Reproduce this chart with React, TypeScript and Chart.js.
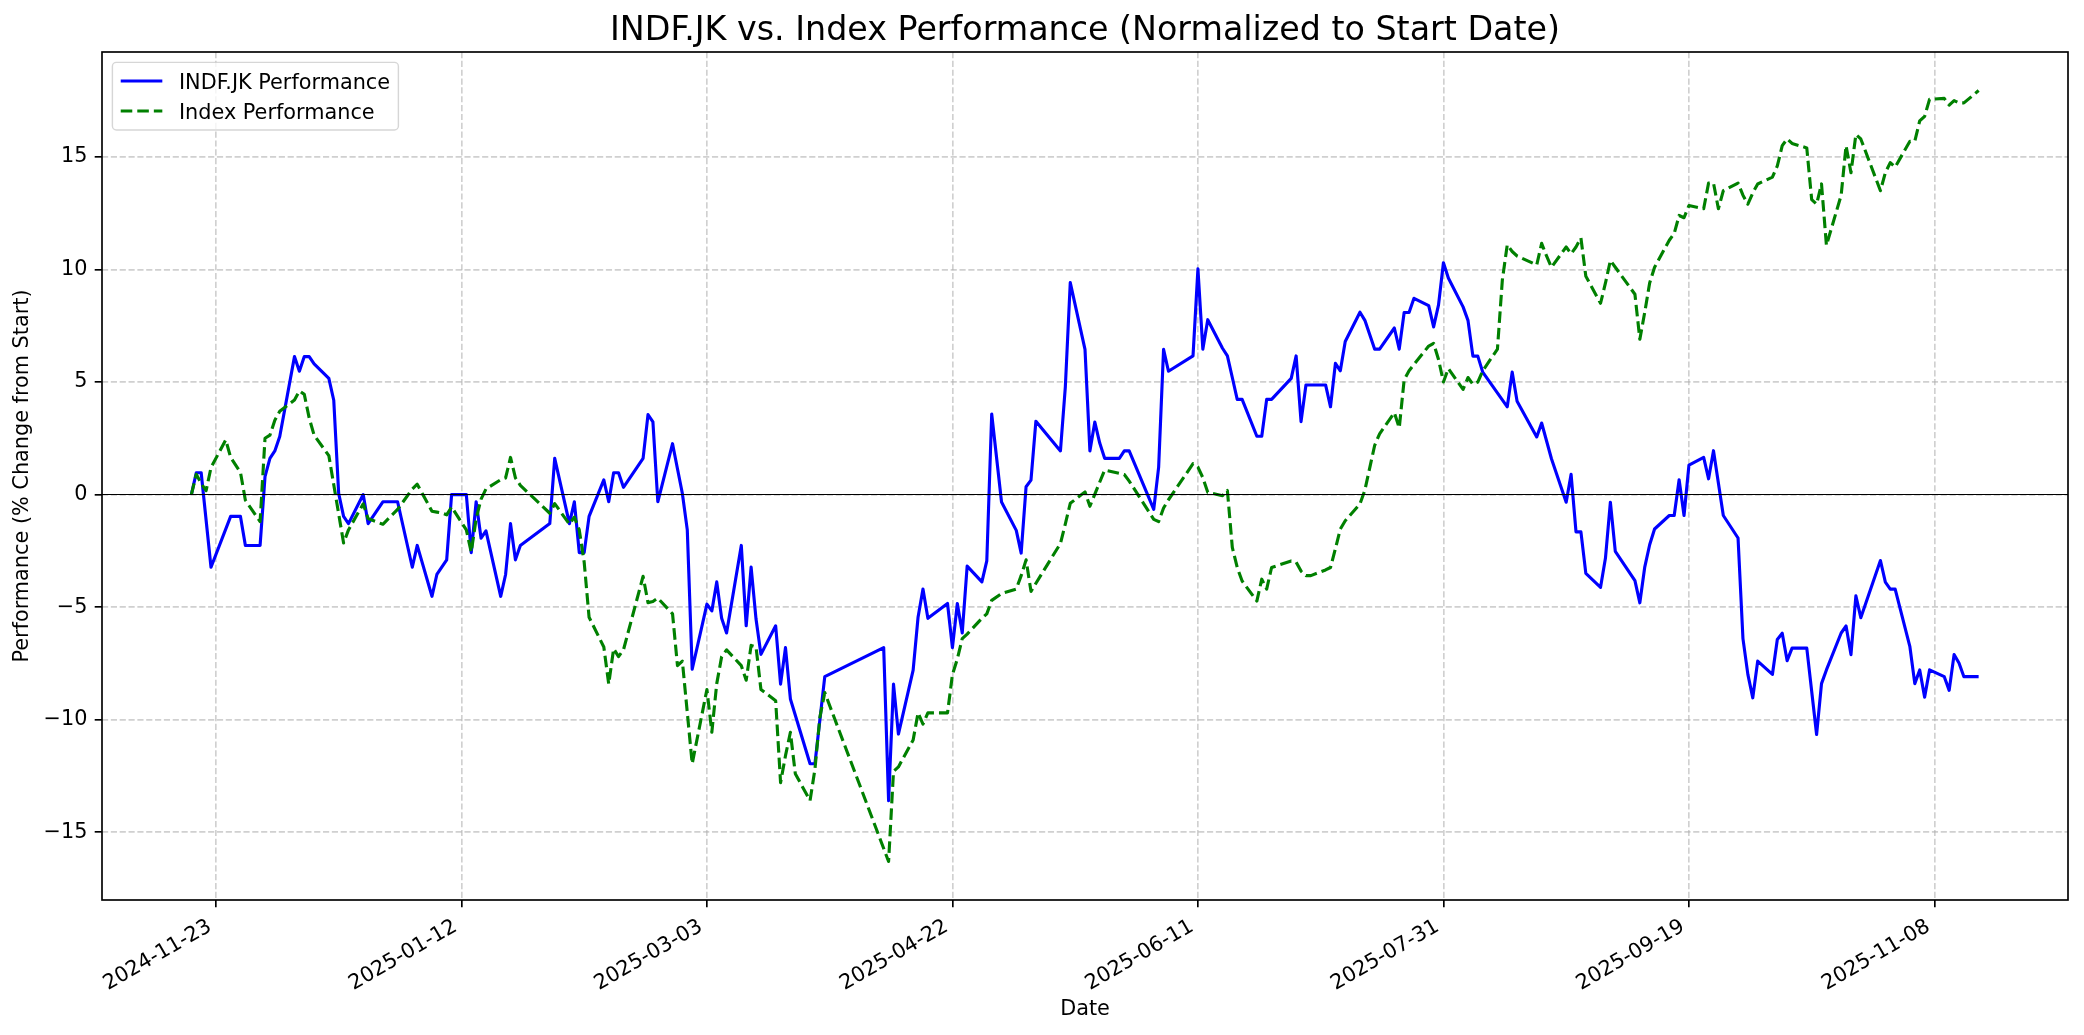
import React, { useEffect, useRef } from 'react';
import { Chart, registerables } from 'chart.js';

Chart.register(...registerables);

// ---------------- data ----------------
const TITLE = 'INDF.JK vs. Index Performance (Normalized to Start Date)';
const X_LABEL = 'Date';
const Y_LABEL = 'Performance (% Change from Start)';
const SERIES_LABELS = ['INDF.JK Performance', 'Index Performance'];

// INDF.JK performance (% change from start), [date, value]
const stockSeries: [string, number][] = [
  ['2024-11-18', 0], ['2024-11-19', 0.97], ['2024-11-20', 0.97], ['2024-11-22', -3.23], ['2024-11-26', -0.97], ['2024-11-28', -0.97], ['2024-11-29', -2.26],
  ['2024-12-02', -2.26], ['2024-12-03', 0.8], ['2024-12-04', 1.61], ['2024-12-05', 1.94], ['2024-12-06', 2.58], ['2024-12-09', 6.13], ['2024-12-10', 5.48], ['2024-12-11', 6.13], ['2024-12-12', 6.13], ['2024-12-13', 5.81], ['2024-12-16', 5.16], ['2024-12-17', 4.19], ['2024-12-18', 0.05], ['2024-12-19', -0.97], ['2024-12-20', -1.29], ['2024-12-23', 0], ['2024-12-24', -1.29], ['2024-12-27', -0.32], ['2024-12-30', -0.32],
  ['2025-01-02', -3.23], ['2025-01-03', -2.26], ['2025-01-06', -4.52], ['2025-01-07', -3.55], ['2025-01-09', -2.9], ['2025-01-10', 0], ['2025-01-13', 0], ['2025-01-14', -2.58], ['2025-01-15', -0.32], ['2025-01-16', -1.94], ['2025-01-17', -1.61], ['2025-01-20', -4.52], ['2025-01-21', -3.55], ['2025-01-22', -1.29], ['2025-01-23', -2.9], ['2025-01-24', -2.26], ['2025-01-30', -1.29], ['2025-01-31', 1.61],
  ['2025-02-03', -1.29], ['2025-02-04', -0.32], ['2025-02-05', -2.58], ['2025-02-06', -2.58], ['2025-02-07', -0.97], ['2025-02-10', 0.65], ['2025-02-11', -0.32], ['2025-02-12', 0.97], ['2025-02-13', 0.97], ['2025-02-14', 0.32], ['2025-02-18', 1.61], ['2025-02-19', 3.55], ['2025-02-20', 3.23], ['2025-02-21', -0.32], ['2025-02-24', 2.26], ['2025-02-25', 1.15], ['2025-02-26', 0.05], ['2025-02-27', -1.57], ['2025-02-28', -7.76],
  ['2025-03-03', -4.87], ['2025-03-04', -5.17], ['2025-03-05', -3.88], ['2025-03-06', -5.5], ['2025-03-07', -6.15], ['2025-03-10', -2.26], ['2025-03-11', -5.83], ['2025-03-12', -3.22], ['2025-03-13', -5.53], ['2025-03-14', -7.1], ['2025-03-17', -5.83], ['2025-03-18', -8.42], ['2025-03-19', -6.8], ['2025-03-20', -9.08], ['2025-03-24', -11.96], ['2025-03-25', -11.96], ['2025-03-27', -8.09],
  ['2025-04-08', -6.8], ['2025-04-09', -13.6], ['2025-04-10', -8.42], ['2025-04-11', -10.64], ['2025-04-14', -7.8], ['2025-04-15', -5.45], ['2025-04-16', -4.2], ['2025-04-17', -5.5], ['2025-04-21', -4.84], ['2025-04-22', -6.8], ['2025-04-23', -4.84], ['2025-04-24', -6.15], ['2025-04-25', -3.18], ['2025-04-28', -3.88], ['2025-04-29', -2.95], ['2025-04-30', 3.58],
  ['2025-05-02', -0.33], ['2025-05-05', -1.59], ['2025-05-06', -2.6], ['2025-05-07', 0.35], ['2025-05-08', 0.64], ['2025-05-09', 3.26], ['2025-05-14', 1.94], ['2025-05-15', 4.8], ['2025-05-16', 9.42], ['2025-05-19', 6.45], ['2025-05-20', 1.94], ['2025-05-21', 3.22], ['2025-05-22', 2.29], ['2025-05-23', 1.61], ['2025-05-26', 1.61], ['2025-05-27', 1.94], ['2025-05-28', 1.94],
  ['2025-06-02', -0.66], ['2025-06-03', 1.22], ['2025-06-04', 6.45], ['2025-06-05', 5.48], ['2025-06-10', 6.16], ['2025-06-11', 10.03], ['2025-06-12', 6.46], ['2025-06-13', 7.77], ['2025-06-16', 6.5], ['2025-06-17', 6.16], ['2025-06-18', 5.2], ['2025-06-19', 4.23], ['2025-06-20', 4.23], ['2025-06-23', 2.59], ['2025-06-24', 2.59], ['2025-06-25', 4.23], ['2025-06-26', 4.23], ['2025-06-30', 5.16],
  ['2025-07-01', 6.16], ['2025-07-02', 3.24], ['2025-07-03', 4.87], ['2025-07-04', 4.87], ['2025-07-07', 4.87], ['2025-07-08', 3.9], ['2025-07-09', 5.83], ['2025-07-10', 5.5], ['2025-07-11', 6.8], ['2025-07-14', 8.1], ['2025-07-15', 7.74], ['2025-07-16', 7.1], ['2025-07-17', 6.46], ['2025-07-18', 6.46], ['2025-07-21', 7.4], ['2025-07-22', 6.46], ['2025-07-23', 8.09], ['2025-07-24', 8.09], ['2025-07-25', 8.72], ['2025-07-28', 8.39], ['2025-07-29', 7.45], ['2025-07-30', 8.43], ['2025-07-31', 10.3],
  ['2025-08-01', 9.62], ['2025-08-04', 8.34], ['2025-08-05', 7.74], ['2025-08-06', 6.15], ['2025-08-07', 6.15], ['2025-08-08', 5.44], ['2025-08-13', 3.9], ['2025-08-14', 5.44], ['2025-08-15', 4.15], ['2025-08-19', 2.56], ['2025-08-20', 3.18], ['2025-08-22', 1.59], ['2025-08-25', -0.34], ['2025-08-26', 0.9], ['2025-08-27', -1.66], ['2025-08-28', -1.66], ['2025-08-29', -3.5],
  ['2025-09-01', -4.12], ['2025-09-02', -2.82], ['2025-09-03', -0.34], ['2025-09-04', -2.52], ['2025-09-08', -3.82], ['2025-09-09', -4.81], ['2025-09-10', -3.22], ['2025-09-11', -2.23], ['2025-09-12', -1.53], ['2025-09-15', -0.93], ['2025-09-16', -0.93], ['2025-09-17', 0.66], ['2025-09-18', -0.93], ['2025-09-19', 1.31], ['2025-09-22', 1.65], ['2025-09-23', 0.7], ['2025-09-24', 1.95], ['2025-09-26', -0.93], ['2025-09-29', -1.93], ['2025-09-30', -6.4],
  ['2025-10-01', -7.99], ['2025-10-02', -9.03], ['2025-10-03', -7.4], ['2025-10-06', -7.99], ['2025-10-07', -6.44], ['2025-10-08', -6.16], ['2025-10-09', -7.38], ['2025-10-10', -6.82], ['2025-10-13', -6.82], ['2025-10-15', -10.66], ['2025-10-16', -8.4], ['2025-10-17', -7.79], ['2025-10-20', -6.15], ['2025-10-21', -5.84], ['2025-10-22', -7.11], ['2025-10-23', -4.5], ['2025-10-24', -5.47], ['2025-10-28', -2.93], ['2025-10-29', -3.89], ['2025-10-30', -4.2], ['2025-10-31', -4.2],
  ['2025-11-03', -6.76], ['2025-11-04', -8.4], ['2025-11-05', -7.79], ['2025-11-06', -9.0], ['2025-11-07', -7.79], ['2025-11-10', -8.09], ['2025-11-11', -8.7], ['2025-11-12', -7.11], ['2025-11-13', -7.48], ['2025-11-14', -8.09], ['2025-11-17', -8.09],
];

// Index performance (% change from start), [date, value]
const indexSeries: [string, number][] = [
  ['2024-11-18', 0], ['2024-11-19', 0.9], ['2024-11-20', 0.5], ['2024-11-21', 0.17], ['2024-11-22', 1.2], ['2024-11-25', 2.43], ['2024-11-26', 1.65], ['2024-11-28', 0.99], ['2024-11-29', -0.25],
  ['2024-12-02', -1.2], ['2024-12-03', 2.5], ['2024-12-04', 2.64], ['2024-12-05', 3.3], ['2024-12-06', 3.7], ['2024-12-09', 4.2], ['2024-12-10', 4.6], ['2024-12-11', 4.45], ['2024-12-12', 3.4], ['2024-12-13', 2.64], ['2024-12-16', 1.73], ['2024-12-19', -2.15], ['2024-12-20', -1.57], ['2024-12-23', -0.41], ['2024-12-24', -1.07], ['2024-12-27', -1.32], ['2024-12-30', -0.66],
  ['2025-01-02', 0.25], ['2025-01-03', 0.46], ['2025-01-06', -0.74], ['2025-01-07', -0.78], ['2025-01-08', -0.82], ['2025-01-09', -0.9], ['2025-01-10', -0.55], ['2025-01-13', -1.57], ['2025-01-14', -2.56], ['2025-01-15', -1.07], ['2025-01-16', -0.2], ['2025-01-17', 0.25], ['2025-01-20', 0.66], ['2025-01-21', 0.74], ['2025-01-22', 1.65], ['2025-01-23', 0.74], ['2025-01-24', 0.41], ['2025-01-30', -0.83], ['2025-01-31', -0.4],
  ['2025-02-03', -1.32], ['2025-02-04', -1.0], ['2025-02-05', -1.57], ['2025-02-06', -3.0], ['2025-02-07', -5.45], ['2025-02-10', -6.77], ['2025-02-11', -8.42], ['2025-02-12', -6.85], ['2025-02-13', -7.2], ['2025-02-14', -6.9], ['2025-02-18', -3.63], ['2025-02-19', -4.8], ['2025-02-20', -4.75], ['2025-02-21', -4.6], ['2025-02-24', -5.3], ['2025-02-25', -7.6], ['2025-02-26', -7.4], ['2025-02-28', -11.96],
  ['2025-03-03', -8.66], ['2025-03-04', -10.56], ['2025-03-05', -8.4], ['2025-03-06', -7.2], ['2025-03-07', -6.9], ['2025-03-10', -7.6], ['2025-03-11', -8.25], ['2025-03-12', -6.7], ['2025-03-13', -6.77], ['2025-03-14', -8.66], ['2025-03-17', -9.16], ['2025-03-18', -12.8], ['2025-03-19', -11.6], ['2025-03-20', -10.56], ['2025-03-21', -12.4], ['2025-03-24', -13.6], ['2025-03-25', -12.2], ['2025-03-26', -9.9], ['2025-03-27', -8.8],
  ['2025-04-09', -16.3], ['2025-04-10', -12.3], ['2025-04-11', -12.1], ['2025-04-14', -10.9], ['2025-04-15', -9.7], ['2025-04-16', -10.2], ['2025-04-17', -9.7], ['2025-04-21', -9.7], ['2025-04-22', -8.0], ['2025-04-23', -7.3], ['2025-04-24', -6.4], ['2025-04-25', -6.2], ['2025-04-28', -5.5], ['2025-04-29', -5.3], ['2025-04-30', -4.7],
  ['2025-05-02', -4.4], ['2025-05-05', -4.2], ['2025-05-06', -3.6], ['2025-05-07', -2.9], ['2025-05-08', -4.3], ['2025-05-14', -2.17], ['2025-05-15', -1.3], ['2025-05-16', -0.39], ['2025-05-19', 0.12], ['2025-05-20', -0.52], ['2025-05-23', 1.09], ['2025-05-27', 0.89], ['2025-05-28', 0.6],
  ['2025-06-02', -1.1], ['2025-06-03', -1.2], ['2025-06-04', -0.6], ['2025-06-05', -0.23], ['2025-06-10', 1.37], ['2025-06-11', 1.22], ['2025-06-12', 0.75], ['2025-06-13', 0.1], ['2025-06-16', -0.05], ['2025-06-17', 0.18], ['2025-06-18', -2.35], ['2025-06-19', -3.24], ['2025-06-20', -3.84], ['2025-06-23', -4.73], ['2025-06-24', -3.76], ['2025-06-25', -4.2], ['2025-06-26', -3.24], ['2025-06-30', -2.95],
  ['2025-07-01', -3.0], ['2025-07-02', -3.4], ['2025-07-03', -3.6], ['2025-07-04', -3.6], ['2025-07-07', -3.35], ['2025-07-08', -3.24], ['2025-07-09', -2.4], ['2025-07-10', -1.53], ['2025-07-11', -1.16], ['2025-07-14', -0.42], ['2025-07-15', 0.2], ['2025-07-16', 1.2], ['2025-07-17', 2.19], ['2025-07-18', 2.7], ['2025-07-21', 3.64], ['2025-07-22', 2.96], ['2025-07-23', 5.1], ['2025-07-24', 5.5], ['2025-07-25', 5.78], ['2025-07-28', 6.6], ['2025-07-29', 6.72], ['2025-07-30', 6.0], ['2025-07-31', 5.0],
  ['2025-08-01', 5.6], ['2025-08-04', 4.67], ['2025-08-05', 5.2], ['2025-08-06', 4.9], ['2025-08-07', 5.0], ['2025-08-08', 5.5], ['2025-08-11', 6.46], ['2025-08-12', 9.54], ['2025-08-13', 11.1], ['2025-08-14', 10.8], ['2025-08-15', 10.6], ['2025-08-19', 10.2], ['2025-08-20', 11.16], ['2025-08-21', 10.6], ['2025-08-22', 10.1], ['2025-08-25', 11.0], ['2025-08-26', 10.7], ['2025-08-27', 11.0], ['2025-08-28', 11.4], ['2025-08-29', 9.7],
  ['2025-09-01', 8.5], ['2025-09-02', 9.4], ['2025-09-03', 10.4], ['2025-09-04', 10.1], ['2025-09-08', 8.9], ['2025-09-09', 6.9], ['2025-09-10', 8.1], ['2025-09-11', 9.4], ['2025-09-12', 10.1], ['2025-09-15', 11.3], ['2025-09-16', 11.6], ['2025-09-17', 12.4], ['2025-09-18', 12.3], ['2025-09-19', 12.84], ['2025-09-22', 12.7], ['2025-09-23', 13.84], ['2025-09-24', 13.84], ['2025-09-25', 12.7], ['2025-09-26', 13.5], ['2025-09-29', 13.84], ['2025-09-30', 13.3],
  ['2025-10-01', 12.9], ['2025-10-02', 13.4], ['2025-10-03', 13.8], ['2025-10-06', 14.1], ['2025-10-07', 14.6], ['2025-10-08', 15.5], ['2025-10-09', 15.8], ['2025-10-10', 15.6], ['2025-10-13', 15.4], ['2025-10-14', 13.1], ['2025-10-15', 12.9], ['2025-10-16', 13.8], ['2025-10-17', 11.07], ['2025-10-20', 13.3], ['2025-10-21', 15.5], ['2025-10-22', 14.3], ['2025-10-23', 16.0], ['2025-10-24', 15.8], ['2025-10-28', 13.5], ['2025-10-29', 14.3], ['2025-10-30', 14.75], ['2025-10-31', 14.55],
  ['2025-11-03', 15.7], ['2025-11-04', 15.7], ['2025-11-05', 16.6], ['2025-11-06', 16.8], ['2025-11-07', 17.56], ['2025-11-10', 17.6], ['2025-11-11', 17.3], ['2025-11-12', 17.5], ['2025-11-13', 17.4], ['2025-11-14', 17.4], ['2025-11-17', 17.95],
];

const xTickDates = ['2024-11-23', '2025-01-12', '2025-03-03', '2025-04-22', '2025-06-11', '2025-07-31', '2025-09-19', '2025-11-08'];
const yTickValues = [-15, -10, -5, 0, 5, 10, 15];

// ---------------- style ----------------
const W = 2084;
const H = 1035;
const FONT = '"DejaVu Sans", Verdana, sans-serif';
const FS = 20.8; // 10pt @150dpi
const TITLE_FS = 33.3; // 16pt @150dpi
const LINE_W = 3.125; // 1.5pt
const SPINE_W = 1.67; // 0.8pt
const GRID_COLOR = 'rgba(176,176,176,0.6)';

const toMs = (s: string) => Date.UTC(+s.slice(0, 4), +s.slice(5, 7) - 1, +s.slice(8, 10));
const fmtDate = (ms: number) => new Date(ms).toISOString().slice(0, 10);
const fmtNum = (v: number) => (v < 0 ? '\u2212' + Math.abs(v) : String(v));

const roundRect = (ctx: any, x: number, y: number, w: number, h: number, r: number) => {
  ctx.beginPath();
  ctx.moveTo(x + r, y);
  ctx.lineTo(x + w - r, y);
  ctx.arcTo(x + w, y, x + w, y + r, r);
  ctx.lineTo(x + w, y + h - r);
  ctx.arcTo(x + w, y + h, x + w - r, y + h, r);
  ctx.lineTo(x + r, y + h);
  ctx.arcTo(x, y + h, x, y + h - r, r);
  ctx.lineTo(x, y + r);
  ctx.arcTo(x, y, x + r, y, r);
  ctx.closePath();
};

const mplPlugin = {
  id: 'mplDecor',
  afterDatasetsDraw(chart: any) {
    const { ctx, chartArea: a, scales } = chart;
    ctx.save();
    // zero line
    const y0 = scales.y.getPixelForValue(0);
    ctx.strokeStyle = '#000';
    ctx.lineWidth = 1.04;
    ctx.setLineDash([]);
    ctx.beginPath();
    ctx.moveTo(a.left, y0);
    ctx.lineTo(a.right, y0);
    ctx.stroke();
    // spines
    ctx.lineWidth = SPINE_W;
    ctx.strokeStyle = '#000';
    ctx.strokeRect(a.left, a.top, a.right - a.left, a.bottom - a.top);
    ctx.restore();
  },
  afterDraw(chart: any) {
    const { ctx, chartArea: a } = chart;
    ctx.save();
    // title
    ctx.font = `${TITLE_FS}px ${FONT}`;
    ctx.fillStyle = '#000';
    ctx.textAlign = 'center';
    ctx.textBaseline = 'alphabetic';
    ctx.fillText(TITLE, (a.left + a.right) / 2, a.top - 12.5);

    // legend
    const pad = FS * 0.5;
    const bx = a.left + pad;
    const by = a.top + pad;
    ctx.font = `${FS}px ${FONT}`;
    const datasets = chart.data.datasets;
    let tw = 0;
    datasets.forEach((d: any) => { tw = Math.max(tw, ctx.measureText(d.label).width); });
    const borderPad = FS * 0.4;
    const handleLen = FS * 2.0;
    const textPad = FS * 0.8;
    const bw = borderPad * 2 + handleLen + textPad + tw;
    const rowGap = 30;
    const bh = 67.6;
    roundRect(ctx, bx, by, bw, bh, 4);
    ctx.fillStyle = 'rgba(255,255,255,0.8)';
    ctx.fill();
    ctx.lineWidth = 1.4;
    ctx.strokeStyle = 'rgba(204,204,204,0.8)';
    ctx.stroke();
    datasets.forEach((d: any, i: number) => {
      const ry = by + 18.6 + i * rowGap;
      const hx = bx + borderPad;
      ctx.beginPath();
      ctx.strokeStyle = d.borderColor;
      ctx.lineWidth = d.borderWidth;
      ctx.setLineDash(d.borderDash || []);
      ctx.moveTo(hx, ry);
      ctx.lineTo(hx + handleLen, ry);
      ctx.stroke();
      ctx.setLineDash([]);
      ctx.fillStyle = '#000';
      ctx.textAlign = 'left';
      ctx.textBaseline = 'alphabetic';
      ctx.fillText(d.label, hx + handleLen + textPad, ry + 0.3645 * FS);
    });
    ctx.restore();
  },
};

export default function App() {
  const canvasRef = useRef<HTMLCanvasElement | null>(null);

  useEffect(() => {
    const canvas = canvasRef.current;
    if (!canvas) return;

    const allX = [...stockSeries, ...indexSeries].map((p) => toMs(p[0]));
    const allY = [...stockSeries, ...indexSeries].map((p) => p[1]);
    const xLo = Math.min(...allX);
    const xHi = Math.max(...allX);
    const yLo = Math.min(...allY);
    const yHi = Math.max(...allY);
    const xSpan = xHi - xLo;
    const ySpan = yHi - yLo;

    const gridCommon = {
      color: GRID_COLOR,
      lineWidth: SPINE_W,
      drawTicks: true,
      tickLength: 7.3,
      tickColor: '#000',
      tickWidth: SPINE_W,
      tickBorderDash: [],
    };

    const chart = new Chart(canvas, {
      type: 'line',
      data: {
        datasets: [
          {
            label: SERIES_LABELS[0],
            data: stockSeries.map((p) => ({ x: toMs(p[0]), y: p[1] })),
            borderColor: '#0000ff',
            backgroundColor: '#0000ff',
            borderWidth: LINE_W,
            pointRadius: 0,
            tension: 0,
            fill: false,
            borderJoinStyle: 'round',
            order: 1,
          },
          {
            label: SERIES_LABELS[1],
            data: indexSeries.map((p) => ({ x: toMs(p[0]), y: p[1] })),
            borderColor: '#008000',
            backgroundColor: '#008000',
            borderWidth: LINE_W,
            borderDash: [11.56, 5.0],
            pointRadius: 0,
            tension: 0,
            fill: false,
            borderJoinStyle: 'round',
            order: 0,
          },
        ],
      },
      options: {
        animation: false,
        responsive: false,
        maintainAspectRatio: false,
        devicePixelRatio: 1,
        events: [],
        layout: { padding: { left: 0, right: 16, top: 52, bottom: 0 }, autoPadding: false },
        plugins: {
          legend: { display: false },
          title: { display: false },
          tooltip: { enabled: false },
        },
        scales: {
          x: {
            type: 'linear',
            min: xLo - 0.05 * xSpan,
            max: xHi + 0.05 * xSpan,
            afterBuildTicks: (s: any) => {
              s.ticks = xTickDates.map((d) => ({ value: toMs(d) }));
            },
            afterFit: (s: any) => {
              s.height = 135;
            },
            ticks: {
              callback: (v: any) => fmtDate(Number(v)),
              minRotation: 30,
              maxRotation: 30,
              autoSkip: false,
              color: '#000',
              font: { family: FONT, size: FS },
              padding: 7.0,
              labelOffset: -6,
            },
            grid: gridCommon,
            border: { display: false, dash: [6.17, 2.67] },
            title: {
              display: true,
              text: X_LABEL,
              color: '#000',
              font: { family: FONT, size: FS },
              padding: { top: 0, bottom: 12.5 },
            },
          },
          y: {
            type: 'linear',
            min: yLo - 0.05 * ySpan,
            max: yHi + 0.05 * ySpan,
            afterBuildTicks: (s: any) => {
              s.ticks = yTickValues.map((v) => ({ value: v }));
            },
            afterFit: (s: any) => {
              s.width = 102;
            },
            ticks: {
              callback: (v: any) => fmtNum(Number(v)),
              color: '#000',
              font: { family: FONT, size: FS },
              padding: 7.3,
            },
            grid: gridCommon,
            border: { display: false, dash: [6.17, 2.67] },
            title: {
              display: true,
              text: Y_LABEL,
              color: '#000',
              font: { family: FONT, size: FS },
              padding: { top: 10, bottom: 0 },
            },
          },
        },
      },
      plugins: [mplPlugin],
    } as any);

    return () => {
      chart.destroy();
    };
  }, []);

  return (
    <div style={{ position: 'absolute', left: 0, top: 0, width: W, height: H, background: '#fff' }}>
      <canvas ref={canvasRef} width={W} height={H} style={{ display: 'block', width: W, height: H }} />
    </div>
  );
}
